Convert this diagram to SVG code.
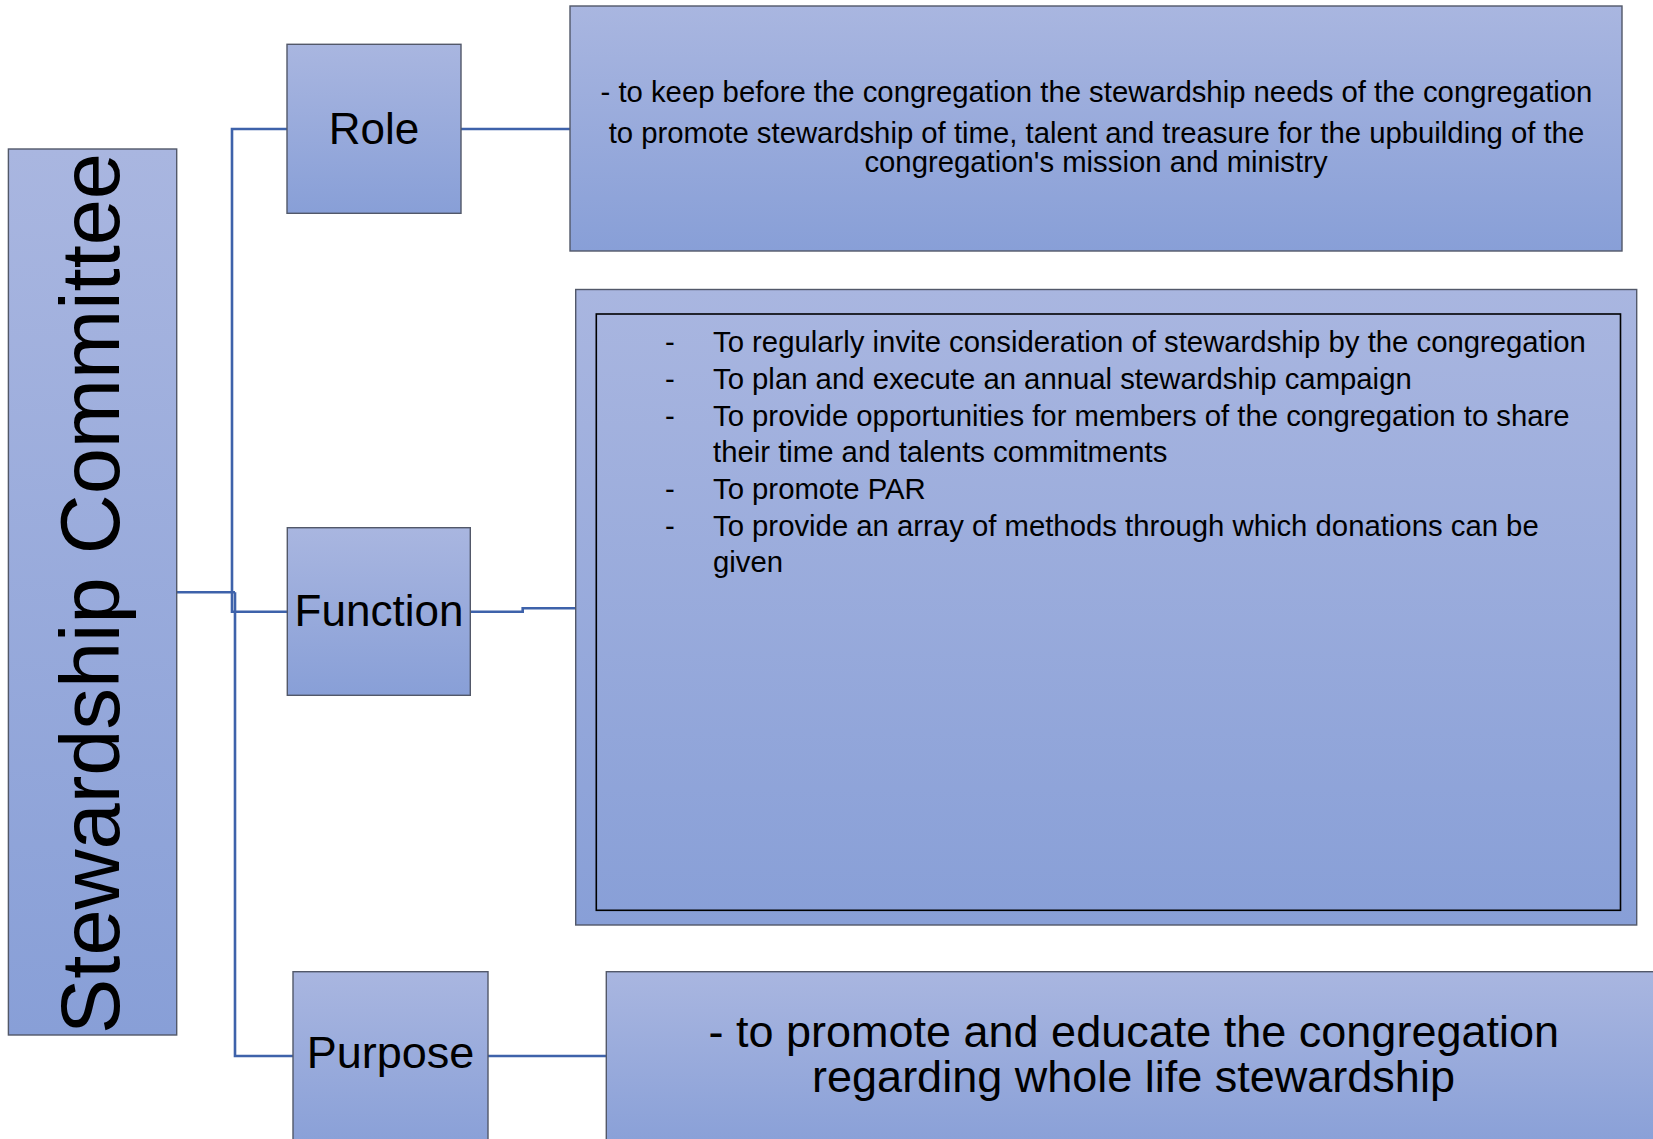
<svg xmlns="http://www.w3.org/2000/svg" width="1653" height="1139" viewBox="0 0 1653 1139">
<defs>
<linearGradient id="g" x1="0" y1="0" x2="0" y2="1">
<stop offset="0" stop-color="#a9b6e0"/>
<stop offset="1" stop-color="#889fd7"/>
</linearGradient>
<style>
.box{fill:url(#g);stroke:#525869;stroke-width:1.4}
.inner{fill:none;stroke:#000;stroke-width:1.6}
.t{font-family:"Liberation Sans",Arial,sans-serif;fill:#000}
.c{fill:none;stroke:#3e62aa;stroke-width:2.6}
</style>
</defs>
<rect width="1653" height="1139" fill="#fff"/>
<g id="connectors">
<polyline class="c" points="176.7,592.3 235,592.3"/>
<polyline class="c" points="287,129 232,129 232,611.7 287,611.7"/>
<polyline class="c" points="235,592.3 235,1056 293,1056"/>
<polyline class="c" points="461,129 570,129"/>
<polyline class="c" points="470,611.7 522.7,611.7 522.7,608.3 575.7,608.3"/>
<polyline class="c" points="488,1056 606,1056"/>
</g>
<g id="root">
<rect class="box" x="8.4" y="149" width="168.3" height="886"/>
<text class="t" font-size="83" text-anchor="middle" transform="translate(119,593.5) rotate(-90)">Stewardship Committee</text>
</g>
<g id="role">
<rect class="box" x="287" y="44.3" width="174" height="169"/>
<text class="t" x="374" y="143.5" font-size="44" text-anchor="middle">Role</text>
</g>
<g id="role-desc">
<rect class="box" x="570" y="6" width="1052" height="245"/>
<text class="t" font-size="29.3" text-anchor="middle">
<tspan x="1100.5" y="102">- to keep before the congregation the stewardship needs of the congregation</tspan>
<tspan x="1100.5" y="142.5">to promote stewardship of time, talent and treasure for the upbuilding of the</tspan>
<tspan x="1096" y="172">congregation's mission and ministry</tspan>
</text>
</g>
<g id="function">
<rect class="box" x="287.3" y="527.7" width="183" height="167.6"/>
<text class="t" x="379" y="626" font-size="44" text-anchor="middle">Function</text>
</g>
<g id="function-desc">
<rect class="box" x="575.7" y="289.5" width="1061" height="635.5"/>
<rect class="inner" x="596.3" y="314" width="1024.2" height="596.3"/>
<text class="t" font-size="29.3">
<tspan x="665" y="352.3">-</tspan>
<tspan x="665" y="389">-</tspan>
<tspan x="665" y="425.7">-</tspan>
<tspan x="665" y="499">-</tspan>
<tspan x="665" y="535.7">-</tspan>
</text>
<text class="t" font-size="29.3">
<tspan x="713" y="352.3">To regularly invite consideration of stewardship by the congregation</tspan>
<tspan x="713" y="389">To plan and execute an annual stewardship campaign</tspan>
<tspan x="713" y="425.7">To provide opportunities for members of the congregation to share</tspan>
<tspan x="713" y="462.4">their time and talents commitments</tspan>
<tspan x="713" y="499">To promote PAR</tspan>
<tspan x="713" y="535.7">To provide an array of methods through which donations can be</tspan>
<tspan x="713" y="572.4">given</tspan>
</text>
</g>
<g id="purpose">
<rect class="box" x="293" y="971.7" width="195" height="180"/>
<text class="t" x="390.5" y="1068.3" font-size="45" text-anchor="middle">Purpose</text>
</g>
<g id="purpose-desc">
<rect class="box" x="606.3" y="971.7" width="1060" height="180"/>
<text class="t" font-size="45" text-anchor="middle">
<tspan x="1140" y="1046.7">- to promote and educate the congregation</tspan>
<tspan x="1133.5" y="1091.7">regarding whole life stewardship</tspan>
</text>
</g>
</svg>
